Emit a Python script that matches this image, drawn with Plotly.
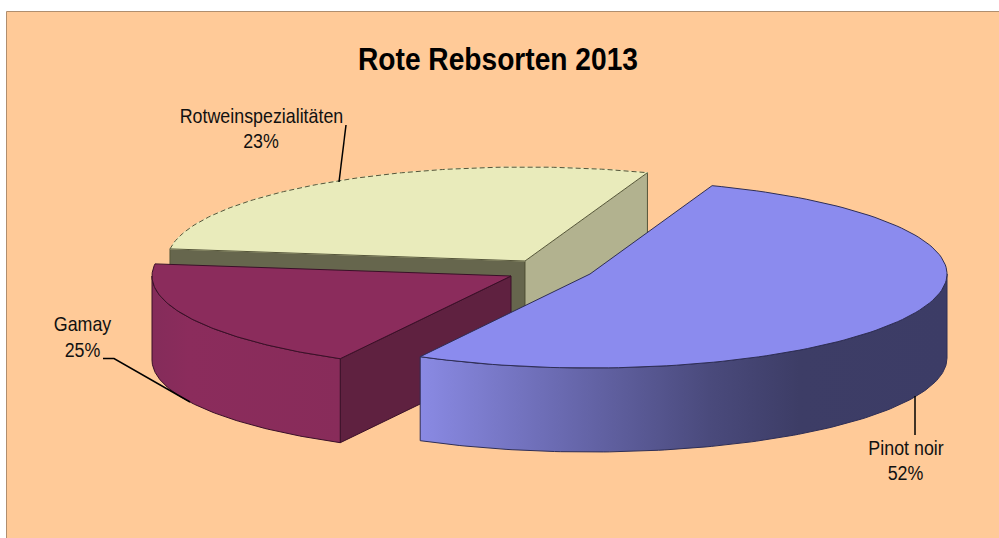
import math
import plotly.graph_objects as go

# Data as labelled in the reference
categories = ["Pinot noir", "Gamay", "Rotweinspezialitäten"]
shares = [52, 25, 23]
title_text = "Rote Rebsorten 2013"
# Slice sweeps as they are actually drawn in the reference (degrees on the tilted ellipse)
drawn_sweeps = [188.4, 69.0, 102.6]
start_angle = 70.0

# Geometry / style (canvas pixels)
centres = [(590, 274), (511, 276), (525, 261)]
RX, RY, H = [357, 359, 358], [94, 94, 94], 84
top_colors = ["#8B8BEE", "#8B2C5C", "#E9EBBB"]
edge_colors = ["#2E2E55", "#3A1028", "#55553A"]

BG = "#FFCA98"
FONT = "Liberation Sans"

# compute slice angles from the sweeps
angles = []
a = start_angle
for s in drawn_sweeps:
    angles.append((a, a - s))
    a -= s


def pt(i, t):
    cx, cy = centres[i]
    r = math.radians(t)
    return cx + RX[i] * math.cos(r), cy - RY[i] * math.sin(r)


def arc(i, t0, t1, n=120):
    return [pt(i, t0 + (t1 - t0) * k / n) for k in range(n + 1)]


fig = go.Figure()


def poly(points, color, line=None, width=1, grad=None):
    xs = [p[0] for p in points] + [points[0][0]]
    ys = [p[1] for p in points] + [points[0][1]]
    kw = dict(fillcolor=color) if grad is None else dict(fillgradient=grad)
    fig.add_trace(go.Scatter(
        x=xs, y=ys, mode="lines", fill="toself",
        line=dict(color=line or color, width=width),
        hoverinfo="skip", showlegend=False, **kw))


def down(points):
    return [(x, y + H) for x, y in reversed(points)]


def radial_wall(i, t, color):
    c = centres[i]
    p = pt(i, t)
    poly([c, p, (p[0], p[1] + H), (c[0], c[1] + H)], color, edge_colors[i])


def top(i, dashed_arc=False):
    t0, t1 = angles[i]
    pts = arc(i, t0, t1)
    if not dashed_arc:
        poly([centres[i]] + pts, top_colors[i], edge_colors[i])
        return
    poly([centres[i]] + pts, top_colors[i], top_colors[i])
    fig.add_trace(go.Scatter(x=[p[0] for p in pts], y=[p[1] for p in pts], mode="lines",
                             line=dict(color=edge_colors[i], width=1, dash="5px,3px"),
                             hoverinfo="skip", showlegend=False))
    for end in (pts[0], pts[-1]):
        fig.add_trace(go.Scatter(x=[centres[i][0], end[0]], y=[centres[i][1], end[1]], mode="lines",
                                 line=dict(color=edge_colors[i], width=1),
                                 hoverinfo="skip", showlegend=False))


def outer_wall(i, t0, t1, grad=None, color=None):
    pts = arc(i, t0, t1)
    poly(pts + down(pts), color or top_colors[i], edge_colors[i], grad=grad)


# Rotweinspezialitäten (rear slice)
radial_wall(2, angles[2][0], "#66664D")   # front radial face
radial_wall(2, start_angle - 360, "#B2B28F")
top(2, dashed_arc=True)

# Gamay
radial_wall(1, angles[1][0], "#5F2140")
outer_wall(1, -180, angles[1][0], grad=dict(
    type="horizontal", start=151, stop=342,
    colorscale=[[0, "#842C5A"], [0.2, "#8B2C5C"], [1, "#882C5A"]]))
top(1)

# Pinot noir
outer_wall(0, 0, angles[0][1], grad=dict(
    type="horizontal", start=419, stop=947,
    colorscale=[[0, "#8A8AE4"], [0.25, "#6C6CB4"], [0.55, "#4A4A7C"],
                [0.72, "#3D3D66"], [1, "#3C3C66"]]))
top(0)

# Leader lines
leaders = [
    ([915, 915], [396, 435]),
    ([190, 114, 103], [402, 358.5, 358.5]),
    ([339, 346], [182, 125]),
]
for lx, ly in leaders:
    fig.add_trace(go.Scatter(x=lx, y=ly, mode="lines", line=dict(color="#000", width=1.5),
                             hoverinfo="skip", showlegend=False))

# Labels: name line and percent line
name_x, name_y = [906, 82.5, 261.5], [449.5, 326, 118]
pct_x, pct_y = [905.5, 82.5, 261], [474.5, 351.5, 143]
for lx, ly, txt in ((name_x, name_y, categories), (pct_x, pct_y, [f"{s}%" for s in shares])):
    fig.add_trace(go.Scatter(
        x=lx, y=ly, mode="text", text=txt, textposition="middle center",
        textfont=dict(family=FONT, size=21, color="#111"),
        hoverinfo="skip", showlegend=False))

fig.update_layout(
    width=999, height=538, autosize=False,
    margin=dict(l=0, r=0, t=0, b=0),
    paper_bgcolor="white", plot_bgcolor="white",
    title=dict(text=f"<b>{title_text}</b>", x=0.4985, xanchor="center", y=0.89, yanchor="middle",
               font=dict(family=FONT, size=32, color="#000")),
    xaxis=dict(range=[0, 999], visible=False, fixedrange=True),
    yaxis=dict(range=[538, 0], visible=False, fixedrange=True),
    shapes=[dict(type="rect", xref="x", yref="y", x0=6.5, y0=11.5, x1=1005, y1=545,
                 fillcolor=BG, line=dict(color="#B08E6E", width=1), layer="below")],
)

# The reference type is a horizontally condensed Arial; no narrow face is installed
condense = """
document.body.style.margin='0';document.body.style.overflow='hidden';
function squeeze(sel, k){document.querySelectorAll(sel).forEach(function(t){
  t.style.transformBox='fill-box';t.style.transformOrigin='center';t.style.transform='scaleX('+k+')';});}
squeeze('.textpoint text',0.85);squeeze('.gtitle',0.88);
"""
fig.write_html("out.html", config={"displayModeBar": False}, post_script=condense)
